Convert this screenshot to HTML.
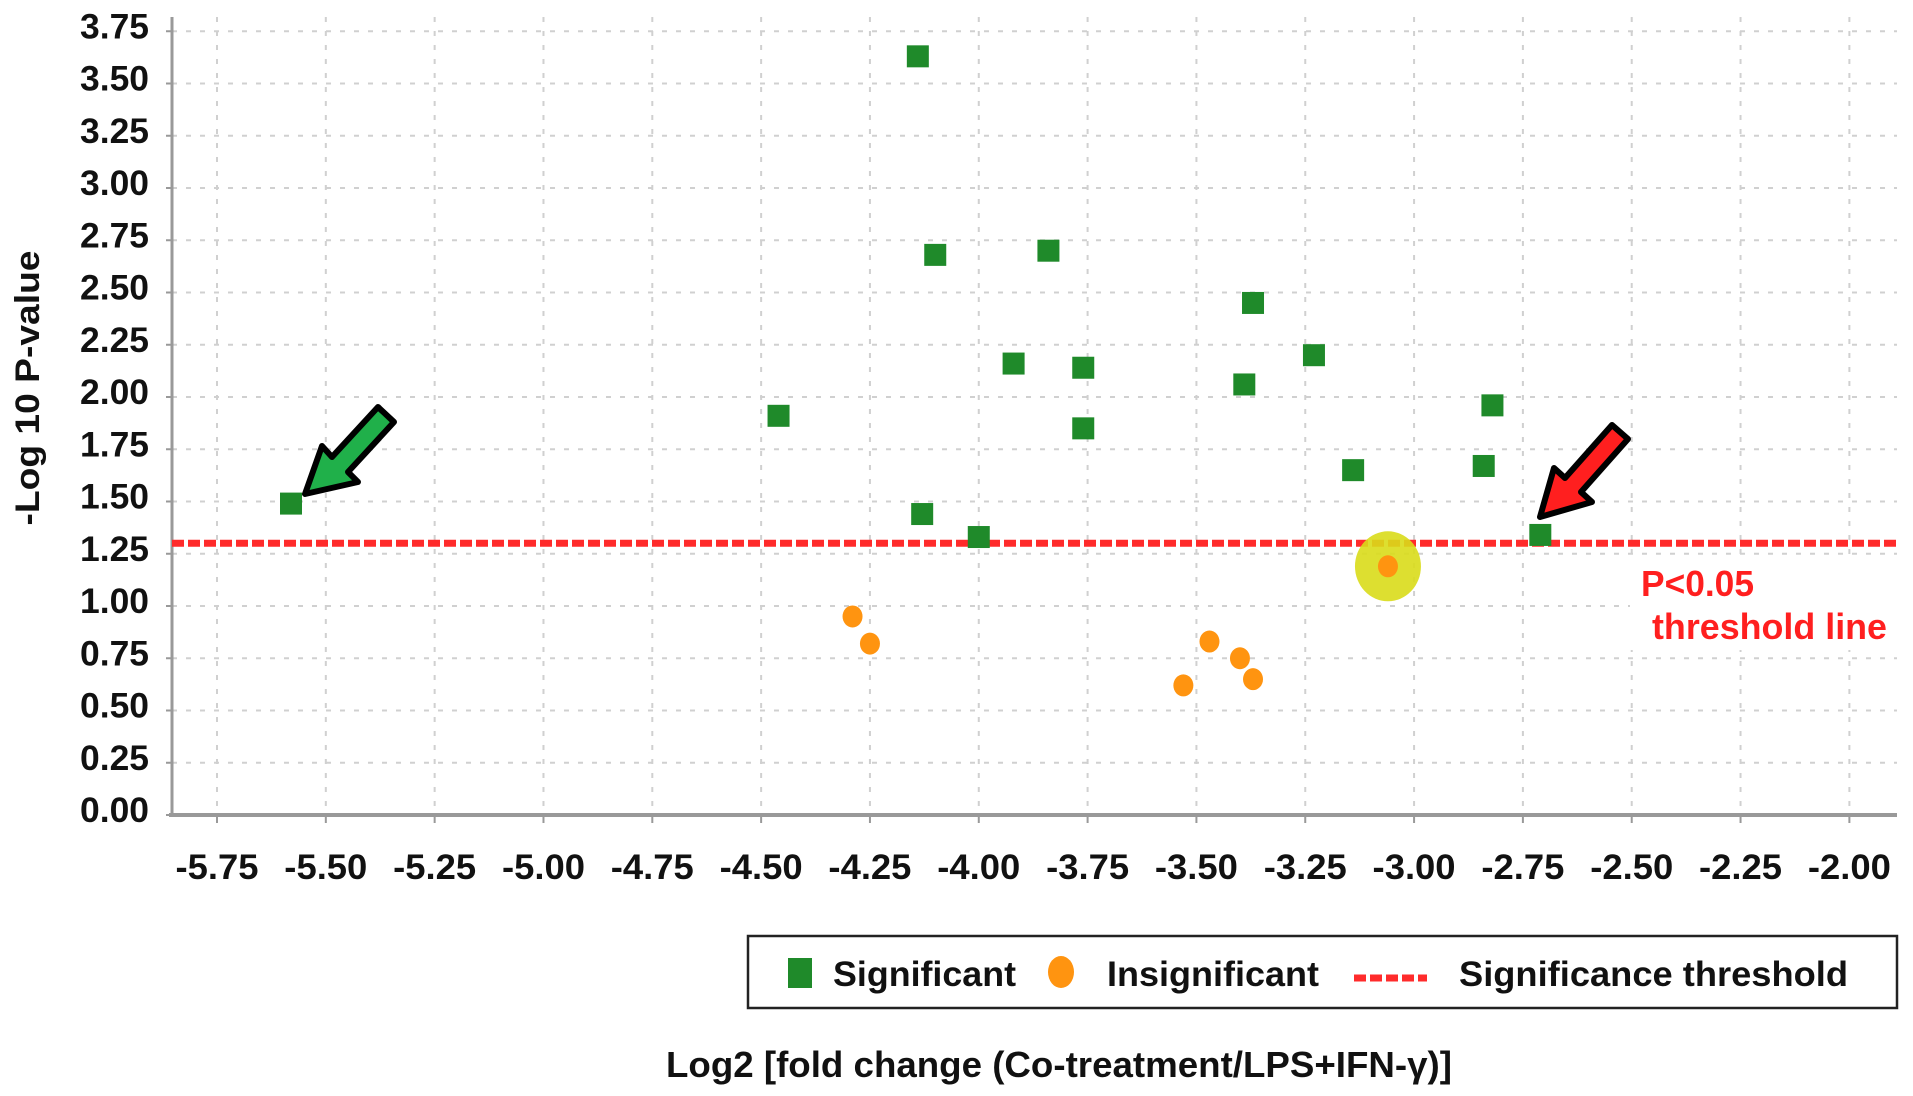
<!DOCTYPE html>
<html><head><meta charset="utf-8"><style>
html,body{margin:0;padding:0;background:#fff;}
svg{display:block;font-family:"Liberation Sans Narrow","Liberation Sans",sans-serif;font-weight:bold;}
</style></head><body>
<svg id="chart" width="1913" height="1096" viewBox="0 0 1913 1096" xmlns="http://www.w3.org/2000/svg">
<g id="grid"></g>
<g id="axes"></g>
<g id="marks"></g>
<g id="annot"></g>
</svg>
<script>
const xTicks = [-5.75,-5.5,-5.25,-5,-4.75,-4.5,-4.25,-4,-3.75,-3.5,-3.25,-3,-2.75,-2.5,-2.25,-2];
const yTicks = [0,0.25,0.5,0.75,1,1.25,1.5,1.75,2,2.25,2.5,2.75,3,3.25,3.5,3.75];
const sigX = [-5.58,-4.14,-4.10,-3.84,-3.37,-4.46,-3.92,-3.76,-3.23,-3.39,-3.76,-2.82,-3.14,-2.84,-4.13,-4.00,-2.71];
const sigY = [1.49,3.63,2.68,2.70,2.45,1.91,2.16,2.14,2.20,2.06,1.85,1.96,1.65,1.67,1.44,1.33,1.34];
const insX = [-4.29,-4.25,-3.47,-3.40,-3.53,-3.37,-3.06];
const insY = [0.95,0.82,0.83,0.75,0.62,0.65,1.19];
const highlightIndex = 6;
const threshold = 1.30;

const NS="http://www.w3.org/2000/svg";
function X(v){return 217+(v+5.75)*435.3;}
function Y(v){return 815-v*209;}
function mk(parent,tag,attrs,text){const e=document.createElementNS(NS,tag);for(const k in attrs)e.setAttribute(k,attrs[k]);if(text!==undefined)e.textContent=text;document.getElementById(parent).appendChild(e);return e;}
const L=172,R=1897,T=17,B=815;
xTicks.forEach(t=>{
  const g=mk('grid','line',{x1:X(t),x2:X(t),y1:T,y2:B,stroke:'#d0d0d0','stroke-width':2,'stroke-dasharray':'5 9'});
  
  
  const tk=mk('axes','line',{x1:X(t),x2:X(t),y1:B,y2:B+8,stroke:'#999','stroke-width':2});
  
  
  const lb=mk('axes','text',{x:X(t),y:879,'text-anchor':'middle','font-size':35,textLength:83,lengthAdjust:'spacingAndGlyphs',fill:'#111'},t.toFixed(2));
  
  
});
yTicks.forEach(t=>{
  if(t>0){
  const g=mk('grid','line',{x1:L,x2:R,y1:Y(t),y2:Y(t),stroke:'#d0d0d0','stroke-width':2,'stroke-dasharray':'5 9'});
  
  }
  const tk=mk('axes','line',{x1:L-6,x2:L,y1:Y(t),y2:Y(t),stroke:'#999','stroke-width':2});
  
  
  const lb=mk('axes','text',{x:149,y:Y(t)+7,'text-anchor':'end','font-size':35,textLength:69,lengthAdjust:'spacingAndGlyphs',fill:'#111'},t.toFixed(2));
  
  
});
const wb=mk('grid','rect',{x:1630,y:560,width:267,height:90,fill:'#fff'});


const ya=mk('axes','line',{x1:L,x2:L,y1:T,y2:B,stroke:'#999','stroke-width':3});


const xa=mk('axes','line',{x1:L-3,x2:R,y1:B,y2:B,stroke:'#999','stroke-width':4});


const yt=mk('axes','text',{x:0,y:0,transform:'translate(39,388) rotate(-90)','text-anchor':'middle','font-size':34,textLength:275,lengthAdjust:'spacingAndGlyphs',fill:'#111'},'-Log 10 P-value');


const xt=mk('axes','text',{x:666,y:1077,'font-size':36,textLength:786,lengthAdjust:'spacingAndGlyphs',fill:'#111'},'Log2 [fold change (Co-treatment/LPS+IFN-γ)]');


const th=mk('marks','line',{x1:L,x2:R,y1:Y(threshold),y2:Y(threshold),stroke:'#ff2b2b','stroke-width':7,'stroke-dasharray':'12 4'});


const hl=mk('marks','ellipse',{cx:X(insX[highlightIndex]),cy:Y(insY[highlightIndex]),rx:33,ry:35,fill:'#d9dc1a',opacity:0.9});


insX.forEach((x,i)=>{
  const c=mk('marks','ellipse',{cx:X(x),cy:Y(insY[i]),rx:10,ry:11,fill:'#ff9410'});
  
  
});
sigX.forEach((x,i)=>{
  const s=mk('marks','rect',{x:X(x)-11,y:Y(sigY[i])-11,width:22,height:22,fill:'#1f8a2a'});
  
  
});
</script>
<svg style="position:absolute;left:0;top:0" width="1913" height="1096">
  <polygon points="305,494 322,446 332,457 378,407 394,422 348,472 358,482" fill="#20b04a" stroke="#000" stroke-width="6" stroke-linejoin="round"/>
  <polygon points="1540,517 1554,468 1565,478 1612,425 1628,439 1581,492 1592,502" fill="#ff1f1f" stroke="#000" stroke-width="6" stroke-linejoin="round"/>
  <text x="1641" y="596" font-family="Liberation Sans Narrow, Liberation Sans, sans-serif" font-weight="bold" font-size="36" fill="#ff1f1f" textLength="113" lengthAdjust="spacingAndGlyphs">P&lt;0.05</text>
  <text x="1652" y="639" font-family="Liberation Sans Narrow, Liberation Sans, sans-serif" font-weight="bold" font-size="36" fill="#ff1f1f" textLength="235" lengthAdjust="spacingAndGlyphs">threshold line</text>
  <g font-family="Liberation Sans Narrow, Liberation Sans, sans-serif" font-weight="bold" font-size="35" fill="#111">
    <rect x="748" y="936" width="1149" height="72" fill="#fff" stroke="#222" stroke-width="2.5"/>
    <rect x="788" y="958" width="24" height="30" fill="#1f8a2a"/>
    <text x="833" y="986" textLength="183" lengthAdjust="spacingAndGlyphs">Significant</text>
    <ellipse cx="1061" cy="972" rx="13" ry="16" fill="#ff9410"/>
    <text x="1107" y="986" textLength="212" lengthAdjust="spacingAndGlyphs">Insignificant</text>
    <line x1="1354" y1="978" x2="1427" y2="978" stroke="#ff2b2b" stroke-width="7" stroke-dasharray="12 4"/>
    <text x="1459" y="986" textLength="389" lengthAdjust="spacingAndGlyphs">Significance threshold</text>
  </g>
</svg>
</body></html>
